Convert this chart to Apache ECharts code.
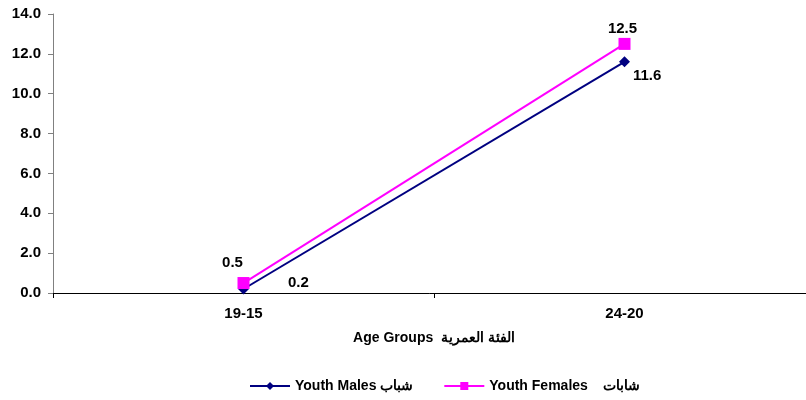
<!DOCTYPE html>
<html>
<head>
<meta charset="utf-8">
<script src="https://cdn.jsdelivr.net/npm/echarts@6/dist/echarts.min.js"></script>
<style>
  html, body { margin: 0; padding: 0; background: #fff; }
  #chart { width: 806px; height: 400px; }
</style>
</head>
<body>
<div id="chart"></div>
<script>
var categories = ['19-15', '24-20'];
var males = [0.2, 11.6];
var females = [0.5, 12.5];
var malesName = 'Youth Males شباب';
var femalesName = 'Youth Females    شابات';

var myChart = echarts.init(document.getElementById('chart'));
var font = 'Liberation Sans, Arial, sans-serif';

function fmt(p) { return p.value.toFixed(1); }

var option = {
	backgroundColor: '#fff',
	animation: false,
	grid: {
		left: 53,
		width: 762,
		top: 14,
		bottom: 107,
		outerBoundsMode: 'none'
	},
	legend: {
		top: 374,
		left: 244,
		itemGap: 30,
		itemWidth: 40,
		itemHeight: 10,
		textStyle: { color: '#000', fontFamily: font, fontWeight: 'bold', fontSize: 14 },
		data: [malesName, femalesName]
	},
	xAxis: {
		type: 'category',
		data: categories,
		name: 'Age Groups  الفئة العمرية',
		nameLocation: 'middle',
		nameGap: 38,
		nameTextStyle: { color: '#000', fontFamily: font, fontWeight: 'bold', fontSize: 14 },
		axisLine: { lineStyle: { color: '#000', width: 1 } },
		axisTick: { show: true, length: 5, lineStyle: { color: '#000' } },
		axisLabel: { color: '#000', fontFamily: font, fontWeight: 'bold', fontSize: 15, margin: 13 },
		splitLine: { show: false }
	},
	yAxis: {
		type: 'value',
		min: 0,
		max: 14,
		interval: 2,
		axisLine: { show: true, lineStyle: { color: '#808080' } },
		axisTick: { show: true, length: 5, lineStyle: { color: '#808080' } },
		axisLabel: {
			color: '#000', fontFamily: font, fontWeight: 'bold', fontSize: 15, margin: 12,
			formatter: function (v) { return v.toFixed(1); }
		},
		splitLine: { show: false }
	},
	series: [
		{
			name: malesName,
			type: 'line',
			data: [
				{ value: males[0], label: { offset: [33, -6] } },
				{ value: males[1], label: { offset: [-3, 14] } }
			],
			symbol: 'diamond',
			symbolSize: 11,
			color: '#000080',
			lineStyle: { color: '#000080', width: 2 },
			label: {
				show: true,
				position: 'right',
				distance: 6,
				color: '#000', fontFamily: font, fontWeight: 'bold', fontSize: 15,
				formatter: fmt
			},
			z: 2
		},
		{
			name: femalesName,
			type: 'line',
			data: [
				{ value: females[0], label: { offset: [-11, -1] } },
				{ value: females[1], label: { offset: [-2, 4] } }
			],
			symbol: 'rect',
			symbolSize: 12,
			color: '#FF00FF',
			lineStyle: { color: '#FF00FF', width: 2 },
			label: {
				show: true,
				position: 'top',
				distance: 6,
				color: '#000', fontFamily: font, fontWeight: 'bold', fontSize: 15,
				formatter: fmt
			},
			z: 3
		}
	]
};
myChart.setOption(option);
</script>
</body>
</html>
